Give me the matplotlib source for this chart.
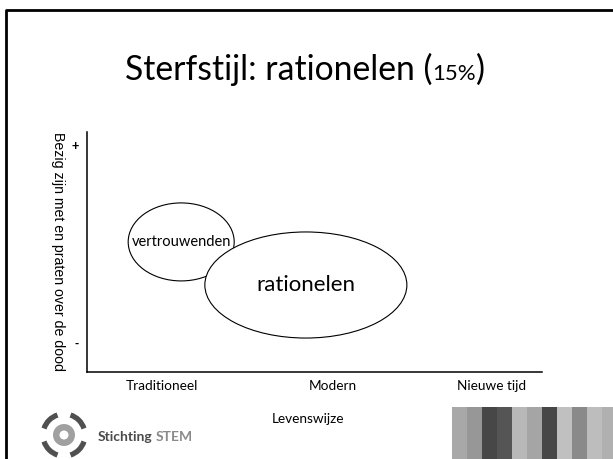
import matplotlib
matplotlib.use("Agg")
import matplotlib.pyplot as plt
from matplotlib.patches import Ellipse, Rectangle, Arc, Circle

# ---- data ----
title_main = "Sterfstijl: rationelen ("
title_pct = "15%"
title_close = ")"
x_categories = ["Traditioneel", "Modern", "Nieuwe tijd"]
x_positions = [0.165, 0.541, 0.890]
y_tick_labels = ["+", "-"]
y_positions = [0.942, 0.125]
x_label = "Levenswijze"
y_label = "Bezig zijn met en praten over de dood"
groups = ["vertrouwenden", "rationelen"]
group_x = [0.207, 0.481]
group_y = [0.542, 0.3625]
group_w = [0.233, 0.444]
group_h = [0.325, 0.442]
stripe_colors = ["#a8a8a8", "#979797", "#474747", "#555555", "#b8b8b8", "#a5a5a5",
                 "#474747", "#c0c0c0", "#8a8a8a", "#bdbdbd", "#b0b0b0"]

W, H = 613, 459
fig = plt.figure(figsize=(W / 100, H / 100), dpi=100)
fig.patch.set_facecolor("white")

CAL = ["Lato", "DejaVu Sans"]
ARIAL = ["Liberation Sans", "DejaVu Sans"]

# ---- decoration overlay (pixel coordinates) ----
deco = fig.add_axes([0, 0, 1, 1], zorder=0)
deco.set_xlim(0, W)
deco.set_ylim(H, 0)
deco.axis("off")
# slide border
deco.plot([6, 6, W + 5], [H + 5, 9.5, 9.5], color="black", lw=2.0, solid_capstyle="projecting")
# stripes
for i, c in enumerate(stripe_colors):
    deco.add_patch(Rectangle((452 + 15 * i, 407), 15, 60, facecolor=c, edgecolor="none"))
# logo
cx, cy = 64, 435
for ang in [45, 135, 225, 315]:
    deco.add_patch(Arc((cx, cy), 42, 42, theta1=ang - 27, theta2=ang + 27,
                       color="#505050", lw=3.8))
deco.add_patch(Circle((cx, cy), 11, facecolor="#a0a0a0", edgecolor="none"))
deco.add_patch(Circle((cx, cy), 4.5, facecolor="white", edgecolor="none"))
t_st = deco.text(98, 437, "Stichting", fontsize=10, fontweight="bold", color="#4a4a4a",
                 family=CAL, ha="left", va="center")

# ---- main axes ----
L, R, T, B = 87, 542, 132, 372
ax = fig.add_axes([L / W, (H - B) / H, (R - L) / W, (B - T) / H], zorder=1)
ax.patch.set_alpha(0)
ax.set_xlim(0, 1)
ax.set_ylim(0, 1)
for s in ["top", "right"]:
    ax.spines[s].set_visible(False)
for s in ["left", "bottom"]:
    ax.spines[s].set_linewidth(1.1)
ax.set_xticks(x_positions)
ax.set_xticklabels(x_categories, family=CAL, fontsize=9.8)
ax.set_yticks(y_positions)
ax.set_yticklabels(y_tick_labels, family=ARIAL, fontsize=9, fontweight="bold")
ax.tick_params(length=0, pad=6)
ax.tick_params(axis="x", pad=6)
ax.set_xlabel(x_label, family=CAL, fontsize=9.8)
ax.xaxis.set_label_coords((308 - L) / (R - L), -(413 - B) / (B - T))
ax.set_ylabel(y_label, family=ARIAL, fontsize=10.2, rotation=-90, va="center")
ax.yaxis.set_label_coords(-(L - 58) / (R - L), (B - 252) / (B - T))

sizes = [10.5, 16]
for i, g in enumerate(groups):
    ax.add_patch(Ellipse((group_x[i], group_y[i]), group_w[i], group_h[i],
                         facecolor="white", edgecolor="black", lw=0.8, zorder=2 + i))
    ax.text(group_x[i], group_y[i], g, fontsize=sizes[i], family=CAL, ha="center",
            va="center", zorder=2 + i + 0.5)

# ---- title ----
yb = 1 - 80 / H
t1 = fig.text(0, yb, title_main, fontsize=24.3, family=CAL, va="baseline", ha="left")
t2 = fig.text(0, yb, title_pct, fontsize=16, family=CAL, va="baseline", ha="left")
t3 = fig.text(0, yb, title_close, fontsize=24.3, family=CAL, va="baseline", ha="left")
fig.canvas.draw()
r = fig.canvas.get_renderer()
w1 = t1.get_window_extent(r).width
w2 = t2.get_window_extent(r).width
w3 = t3.get_window_extent(r).width
x0 = 305 - (w1 + w2 + w3) / 2
t1.set_x(x0 / W)
t2.set_x((x0 + w1) / W)
t3.set_x((x0 + w1 + w2) / W)
# STEM after Stichting
bb = t_st.get_window_extent(r)
deco.text(98 + bb.width + 3, 437, "STEM", fontsize=10, fontweight="bold", color="#8a8a8a",
          family=CAL, ha="left", va="center")

fig.savefig("out.png", dpi=100)
